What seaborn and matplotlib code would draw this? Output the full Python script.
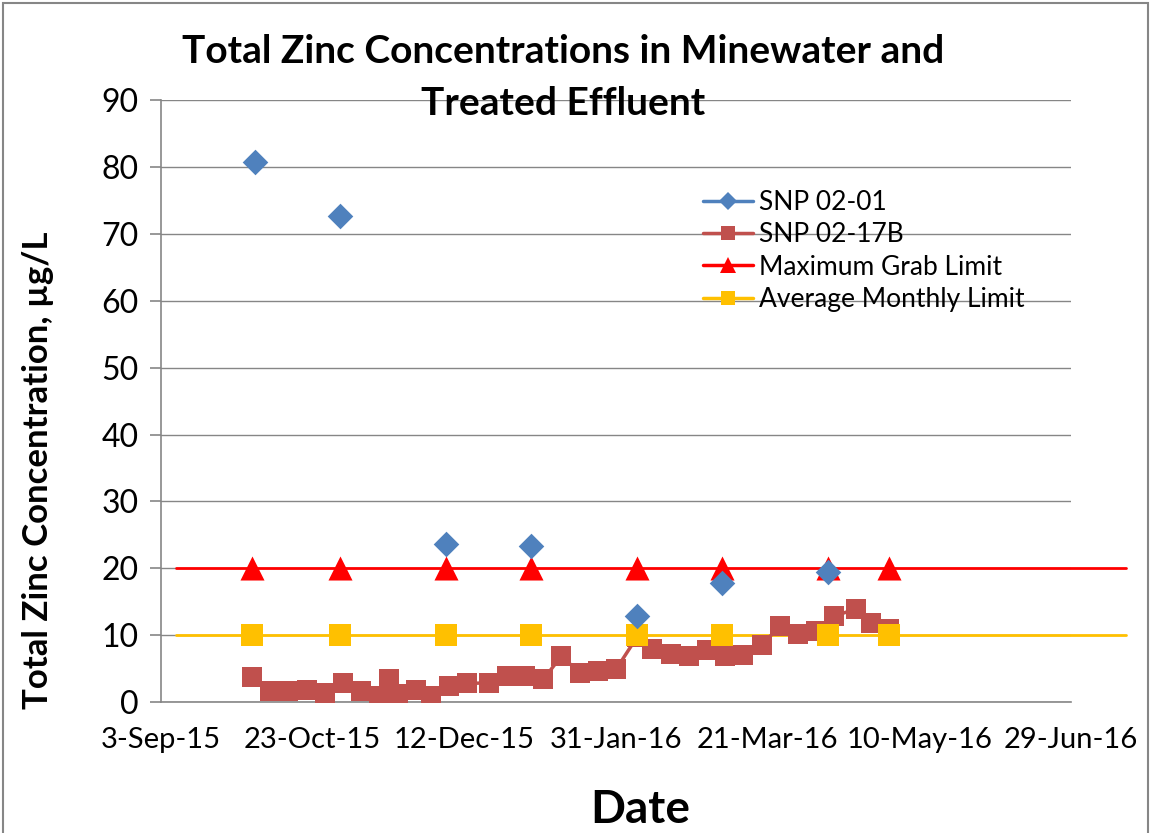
import pandas as pd
import numpy as np
import matplotlib.pyplot as plt
import matplotlib.dates as mdates
import matplotlib.patches as patches
from matplotlib.lines import Line2D
import seaborn as sns

# SNP 02-01 (minewater), grab samples
snp0201_dates = ['2015-10-04', '2015-11-01', '2015-12-06', '2016-01-03',
                 '2016-02-07', '2016-03-06', '2016-04-10']
snp0201_zinc = [80.8, 72.7, 23.6, 23.4, 12.9, 17.8, 19.4]

# SNP 02-17B (treated effluent)
snp0217b_dates = ['2015-10-03', '2015-10-09', '2015-10-15', '2015-10-21', '2015-10-27',
                  '2015-11-02', '2015-11-08', '2015-11-14', '2015-11-17', '2015-11-20',
                  '2015-11-26', '2015-12-01', '2015-12-07', '2015-12-13', '2015-12-20',
                  '2015-12-26', '2016-01-01', '2016-01-07', '2016-01-13', '2016-01-19',
                  '2016-01-25', '2016-01-31', '2016-02-07', '2016-02-12', '2016-02-18',
                  '2016-02-24', '2016-03-01', '2016-03-07', '2016-03-13', '2016-03-19',
                  '2016-03-25', '2016-03-31', '2016-04-06', '2016-04-12', '2016-04-19',
                  '2016-04-24', '2016-04-30']
snp0217b_zinc = [3.7, 1.7, 1.7, 1.9, 1.4, 2.9, 1.7, 0.9, 3.5, 1.3,
                 1.8, 0.9, 2.4, 2.8, 2.9, 3.9, 3.9, 3.4, 6.9, 4.4,
                 4.7, 4.9, 9.8, 7.9, 7.2, 6.9, 7.8, 6.9, 7.1, 8.5,
                 11.4, 10.2, 10.7, 12.9, 13.9, 11.9, 11.0]

# permit limits
limit_dates = ['2015-10-03', '2015-11-01', '2015-12-06', '2016-01-03',
               '2016-02-07', '2016-03-06', '2016-04-10', '2016-04-30']
max_grab_limit = [20, 20, 20, 20, 20, 20, 20, 20]
avg_monthly_limit = [10, 10, 10, 10, 10, 10, 10, 10]
limit_span = ['2015-09-08', '2016-07-17']
max_grab_span = [20, 20]
avg_monthly_span = [10, 10]

tick_dates = ['2015-09-03', '2015-10-23', '2015-12-12', '2016-01-31',
              '2016-03-21', '2016-05-10', '2016-06-29']

blue = '#4F81BD'
brick = '#C0504D'
red = '#FF0000'
gold = '#FFC000'
grey = '#868686'

df1 = pd.DataFrame({'date': pd.to_datetime(snp0201_dates), 'zinc': snp0201_zinc})
df2 = pd.DataFrame({'date': pd.to_datetime(snp0217b_dates), 'zinc': snp0217b_zinc})
dfl = pd.DataFrame({'date': pd.to_datetime(limit_dates), 'grab': max_grab_limit,
                    'monthly': avg_monthly_limit})

sns.set_style('white')
plt.rcParams['font.family'] = ['Lato', 'DejaVu Sans']
plt.rcParams['text.color'] = 'black'
plt.rcParams['axes.labelcolor'] = 'black'

fig = plt.figure(figsize=(11.51, 8.33), dpi=100)
ax = fig.add_axes([0.1399, 0.157, 0.7906, 0.723])

# limit lines run past the plot edge like in the original
span = pd.to_datetime(limit_span)
ax.plot(span, max_grab_span, color=red, lw=2, clip_on=False, zorder=2)
ax.plot(span, avg_monthly_span, color=gold, lw=2, clip_on=False, zorder=2)

sns.lineplot(data=df2, x='date', y='zinc', ax=ax, color=brick, lw=2.5,
             marker='s', markersize=15, markeredgewidth=0, zorder=3)
sns.scatterplot(data=dfl, x='date', y='monthly', ax=ax, color=gold, marker='s',
                s=250, linewidth=0, zorder=4)
sns.scatterplot(data=dfl, x='date', y='grab', ax=ax, color=red, marker='^',
                s=300, linewidth=0, zorder=4)
sns.scatterplot(data=df1, x='date', y='zinc', ax=ax, color=blue, marker='D',
                s=170, linewidth=0, zorder=5)

ax.set_xlim(pd.Timestamp(tick_dates[0]), pd.Timestamp(tick_dates[-1]))
ax.set_ylim(0, 90)
ax.set_yticks(np.arange(0, 91, 10))
ax.set_xticks(pd.to_datetime(tick_dates))
ax.xaxis.set_major_formatter(mdates.DateFormatter('%-d-%b-%y'))

ax.yaxis.grid(True, color=grey, lw=1)
ax.xaxis.grid(False)
for s in ['top', 'right']:
    ax.spines[s].set_visible(False)
for s in ['left', 'bottom']:
    ax.spines[s].set_color(grey)
    ax.spines[s].set_linewidth(1.2)
ax.tick_params(axis='y', direction='out', length=8, color=grey, width=1.2,
               labelsize=23, pad=8, left=True, labelcolor='black')
ax.tick_params(axis='x', length=0, labelsize=21, pad=18, labelcolor='black')

ax.set_xlabel('')
fig.text(0.556, 0.028, 'Date', ha='center', va='center', fontsize=33, fontweight='bold')
ax.set_ylabel('Total Zinc Concentration, µg/L', fontsize=25, fontweight='bold')
ax.yaxis.set_label_coords(-0.118, 0.385)

fig.text(0.489, 0.907, 'Total Zinc Concentrations in Minewater and\nTreated Effluent',
         ha='center', va='center', fontsize=28, fontweight='bold', linespacing=1.57)

handles = [
    Line2D([], [], color=blue, lw=2.5, marker='D', markersize=9, markeredgewidth=0),
    Line2D([], [], color=brick, lw=2.5, marker='s', markersize=10, markeredgewidth=0),
    Line2D([], [], color=red, lw=2.5, marker='^', markersize=11, markeredgewidth=0),
    Line2D([], [], color=gold, lw=2.5, marker='s', markersize=10, markeredgewidth=0),
]
labels = ['SNP 02-01', 'SNP 02-17B', 'Maximum Grab Limit', 'Average Monthly Limit']
ax.legend(handles, labels, loc='upper left', bbox_to_anchor=(0.611, 0.772),
          bbox_transform=fig.transFigure, frameon=False, fontsize=19,
          handlelength=1.9, handletextpad=0.2, labelspacing=0.28,
          borderpad=0, borderaxespad=0)

fig.patches.append(patches.Rectangle((0.003, -0.01), 0.994, 1.006,
                                     transform=fig.transFigure, fill=False,
                                     edgecolor=grey, lw=1.5))

fig.savefig('out.png', dpi=100)
